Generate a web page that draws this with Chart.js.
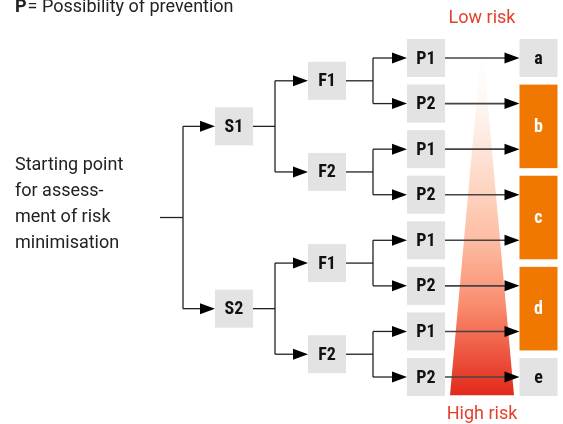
<!DOCTYPE html>
<html>
<head>
<meta charset="utf-8">
<script src="https://cdn.jsdelivr.net/npm/chart.js@4.4.0/dist/chart.umd.min.js"></script>
<style>
body { margin: 0; background: #fff; }
#wrap { width: 563px; height: 424px; }
</style>
</head>
<body>
<div id="wrap"><canvas id="canvas" width="563" height="424"></canvas></div>
<script>
// tree data: leaves are rows 0..7, parents sit between their children
var sLabels = ['S1', 'S2'];
var fLabels = ['F1', 'F2', 'F1', 'F2'];
var pLabels = ['P1', 'P2', 'P1', 'P2', 'P1', 'P2', 'P1', 'P2'];
var resultLabels = ['a', 'b', 'c', 'd', 'e'];
var resultFirstRow = [0, 1, 3, 5, 7];
var resultLastRow = [0, 2, 4, 6, 7];
var resultRisk = [false, true, true, true, false];
var startLines = ['Starting point', 'for assess-', 'ment of risk', 'minimisation'];
var riskLabels = ['Low risk', 'High risk'];
var keyLetter = 'P';
var keyText = '= Possibility of prevention';

var pRows = pLabels.map(function(l, i) { return i; });
var fRows = fLabels.map(function(l, i) { return (pRows[2 * i] + pRows[2 * i + 1]) / 2; });
var sRows = sLabels.map(function(l, i) { return (fRows[2 * i] + fRows[2 * i + 1]) / 2; });
var startRow = (sRows[0] + sRows[1]) / 2;

// layout (x in page units, y in rows)
var col = { start: 160, fork0: 183, s: 234, fork1: 275, f: 327, fork2: 373, p: 426, r: 538.5, tri: 482 };
var BOX = 38;
var gray = '#e2e3e2';
var orange = '#f07800';
var red = '#e5402c';
var font = '"Roboto Condensed", "Liberation Sans Narrow", Roboto, sans-serif';
var textFont = 'Roboto, "Liberation Sans", sans-serif';

var riskGraph = {
    id: 'riskGraph',
    beforeDatasetsDraw: function(chart) {
        var ctx = chart.ctx;
        var xs = chart.scales.x, ys = chart.scales.y;
        var X = function(v) { return xs.getPixelForValue(v); };
        var Y = function(v) { return ys.getPixelForValue(v); };
        ctx.save();

        // risk triangle
        var apexY = Y(-0.4), baseY = Y(7.4);
        var g = ctx.createLinearGradient(0, apexY, 0, baseY);
        g.addColorStop(0, 'rgba(255,255,255,0)');
        g.addColorStop(0.3, '#fee6da');
        g.addColorStop(0.55, '#fdc0a6');
        g.addColorStop(0.75, '#f98b6d');
        g.addColorStop(1, '#e2281a');
        ctx.fillStyle = g;
        ctx.beginPath();
        ctx.moveTo(X(col.tri), apexY);
        ctx.lineTo(X(col.tri + 32), baseY);
        ctx.lineTo(X(col.tri - 32), baseY);
        ctx.closePath();
        ctx.fill();

        function line(x1, y1, x2, y2, c, w) {
            ctx.strokeStyle = c || '#222';
            ctx.lineWidth = w || 1.3;
            ctx.beginPath();
            ctx.moveTo(x1, y1);
            ctx.lineTo(x2, y2);
            ctx.stroke();
        }
        function arrow(x1, x2, y, c, w) {
            line(x1, y, x2 - 10, y, c, w);
            ctx.fillStyle = '#000';
            ctx.beginPath();
            ctx.moveTo(x2, y);
            ctx.lineTo(x2 - 15, y - 5.5);
            ctx.lineTo(x2 - 15, y + 5.5);
            ctx.closePath();
            ctx.fill();
        }
        function fork(fromX, forkX, toX, parentRow, childRows) {
            line(fromX, Y(parentRow), X(forkX), Y(parentRow));
            line(X(forkX), Y(childRows[0]), X(forkX), Y(childRows[childRows.length - 1]));
            childRows.forEach(function(r) { arrow(X(forkX), toX, Y(r)); });
        }
        function box(cx, cy, label, fill, txt, h) {
            h = h || BOX;
            ctx.fillStyle = fill;
            ctx.fillRect(cx - BOX / 2, cy - h / 2, BOX, h);
            ctx.fillStyle = txt;
            ctx.font = 'bold 18px ' + font;
            ctx.textAlign = 'center';
            ctx.textBaseline = 'middle';
            ctx.fillText(label, cx, cy + 1);
        }

        var half = BOX / 2;
        fork(X(col.start), col.fork0, X(col.s) - half, startRow, sRows);
        sRows.forEach(function(r, i) {
            fork(X(col.s) + half, col.fork1, X(col.f) - half, r, [fRows[2 * i], fRows[2 * i + 1]]);
        });
        fRows.forEach(function(r, i) {
            fork(X(col.f) + half, col.fork2, X(col.p) - half, r, [pRows[2 * i], pRows[2 * i + 1]]);
        });
        pRows.forEach(function(r) {
            arrow(X(col.p) + half, X(col.r) - half, Y(r), '#444', 1.6);
        });

        sRows.forEach(function(r, i) { box(X(col.s), Y(r), sLabels[i], gray, '#111'); });
        fRows.forEach(function(r, i) { box(X(col.f), Y(r), fLabels[i], gray, '#111'); });
        pRows.forEach(function(r, i) { box(X(col.p), Y(r), pLabels[i], gray, '#111'); });
        resultLabels.forEach(function(l, i) {
            var top = Y(resultFirstRow[i]) - half, bot = Y(resultLastRow[i]) + half;
            box(X(col.r), (top + bot) / 2, l, resultRisk[i] ? orange : gray,
                resultRisk[i] ? '#fff' : '#111', bot - top);
        });

        // texts
        ctx.textAlign = 'left';
        ctx.textBaseline = 'middle';
        ctx.fillStyle = '#222';
        ctx.font = '18px ' + textFont;
        startLines.forEach(function(t, i) {
            ctx.fillText(t, 15, Y(startRow) + (i - 2) * 26);
        });
        ctx.textBaseline = 'alphabetic';
        ctx.font = 'bold 18px ' + textFont;
        ctx.fillText(keyLetter, 15, 12);
        var kw = ctx.measureText(keyLetter).width;
        ctx.font = '18px ' + textFont;
        ctx.fillText(keyText, 15 + kw + 1, 12);

        ctx.fillStyle = red;
        ctx.textAlign = 'center';
        ctx.textBaseline = 'middle';
        ctx.fillText(riskLabels[0], X(col.tri), 18);
        ctx.fillText(riskLabels[1], X(col.tri), 414);
        ctx.restore();
    }
};

window.onload = function() {
    var ctx = document.getElementById('canvas').getContext('2d');
    window.myGraph = new Chart(ctx, {
        type: 'scatter',
        data: {
            datasets: [{
                data: pRows.map(function(r) { return { x: col.p, y: r }; }),
                pointRadius: 0
            }]
        },
        options: {
            responsive: false,
            animation: false,
            layout: { padding: 0 },
            plugins: { legend: { display: false }, tooltip: { enabled: false } },
            scales: {
                x: { type: 'linear', display: false, min: 0, max: 563 },
                y: { type: 'linear', display: false, reverse: true, min: -1.273, max: 8.031 }
            }
        },
        plugins: [riskGraph]
    });
};
</script>
</body>
</html>
